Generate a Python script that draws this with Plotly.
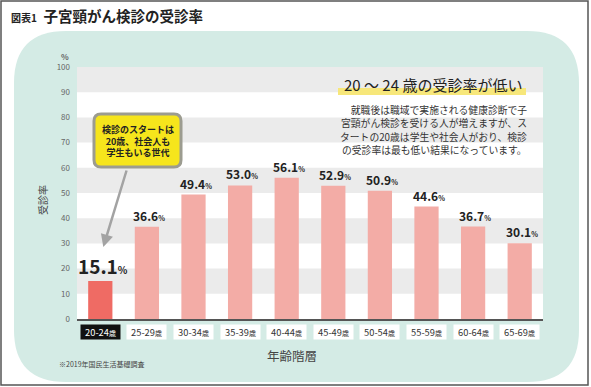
import plotly.graph_objects as go

categories = ["20-24", "25-29", "30-34", "35-39", "40-44", "45-49", "50-54", "55-59", "60-64", "65-69"]
rates = [15.1, 36.6, 49.4, 53.0, 56.1, 52.9, 50.9, 44.6, 36.7, 30.1]
y_ticks = [0, 10, 20, 30, 40, 50, 60, 70, 80, 90, 100]

title_small = "図表1"
title_main = "子宮頸がん検診の受診率"
y_title = "受診率"
x_title = "年齢階層"
footnote = "※2019年国民生活基礎調査"
callout_lines = ["検診のスタートは", "20歳、社会人も", "学生もいる世代"]
box_heading = "20 ～ 24 歳の受診率が低い"
box_lines = ["　就職後は職域で実施される健康診断で子",
             "宮頸がん検診を受ける人が増えますが、ス",
             "タートの20歳は学生や社会人がおり、検診",
             "の受診率は最も低い結果になっています。"]

W, H = 591, 387
L, R, T, B = 77, 543, 67, 319
FONT = "Noto Sans CJK JP"


def px(x):
    return (x - L) / (R - L)


def py(y):
    return (B - y) / (B - T)


def rounded_path(x0, y0, x1, y1, r):
    pts = [
        ("M", [(x0 + r, y0)]),
        ("L", [(x1 - r, y0)]),
        ("Q", [(x1, y0), (x1, y0 + r)]),
        ("L", [(x1, y1 - r)]),
        ("Q", [(x1, y1), (x1 - r, y1)]),
        ("L", [(x0 + r, y1)]),
        ("Q", [(x0, y1), (x0, y1 - r)]),
        ("L", [(x0, y0 + r)]),
        ("Q", [(x0, y0), (x0 + r, y0)]),
    ]
    s = ""
    for cmd, ps in pts:
        s += cmd + " " + " ".join(f"{px(a):.5f},{py(b):.5f}" for a, b in ps) + " "
    return s + "Z"


colors = ["#ef6b64"] + ["#f3aca6"] * (len(categories) - 1)

fig = go.Figure()
fig.add_trace(go.Bar(x=categories, y=rates, marker=dict(color=colors, line=dict(width=0)),
                     width=0.52, hoverinfo="skip"))

shapes = []
# outer frame
shapes.append(dict(type="rect", xref="paper", yref="paper", x0=px(1), x1=px(588), y0=py(1), y1=py(385),
                   line=dict(color="#555555", width=1.5), fillcolor="rgba(0,0,0,0)", layer="below"))
# teal rounded panel
shapes.append(dict(type="path", xref="paper", yref="paper", path=rounded_path(14, 31, 579, 382, 52),
                   fillcolor="#d4ebe5", line=dict(width=0), layer="below"))
# plot area white
shapes.append(dict(type="rect", xref="paper", yref="paper", x0=0, x1=1, y0=0, y1=1,
                   fillcolor="white", line=dict(width=0), layer="below"))
# grey bands
for lo in range(10, 100, 20):
    shapes.append(dict(type="rect", xref="paper", yref="y", x0=0, x1=1, y0=lo, y1=lo + 10,
                       fillcolor="#ebebeb", line=dict(width=0), layer="below"))
# yellow highlight under heading
shapes.append(dict(type="rect", xref="paper", yref="paper", x0=px(338), x1=px(526), y0=py(95), y1=py(88),
                   fillcolor="#f7e77a", line=dict(width=0), layer="below"))
# callout box
shapes.append(dict(type="path", xref="paper", yref="paper", path=rounded_path(94, 114, 181, 167, 7),
                   fillcolor="#f6e51c", line=dict(color="#9c9c90", width=3), layer="above"))

annotations = []
# title
annotations.append(dict(xref="paper", yref="paper", x=px(9), y=py(15), xanchor="left", yanchor="middle",
                        text=f"<b><span style='font-size:10px'>{title_small}</span>  {title_main}</b>",
                        showarrow=False, font=dict(family=FONT, size=14.5, color="#222222")))
# "%" unit
annotations.append(dict(xref="paper", yref="paper", x=px(71), y=py(57), xanchor="right", yanchor="middle",
                        text="<b>%</b>", showarrow=False, font=dict(family=FONT, size=8, color="#666666")))
# y title
annotations.append(dict(xref="paper", yref="paper", x=px(42), y=py(200), xanchor="center", yanchor="middle",
                        text=y_title, textangle=-90, showarrow=False,
                        font=dict(family=FONT, size=10, color="#444444")))
# x title
annotations.append(dict(xref="paper", yref="paper", x=px(292), y=py(355), xanchor="center", yanchor="middle",
                        text=x_title, showarrow=False, font=dict(family=FONT, size=12.5, color="#444444")))
# footnote
annotations.append(dict(xref="paper", yref="paper", x=px(57), y=py(364), xanchor="left", yanchor="middle",
                        text=footnote, showarrow=False, font=dict(family=FONT, size=7, color="#444444")))
# category labels in boxes
for i, c in enumerate(categories):
    first = i == 0
    annotations.append(dict(xref="x", yref="paper", x=c, y=py(332), xanchor="center", yanchor="middle",
                            text=f"{c}<span style='font-size:7px'>歳</span>", showarrow=False,
                            bgcolor="#111111" if first else "white", width=39, height=14,
                            borderpad=0,
                            font=dict(family=FONT, size=9.3, color="white" if first else "#333333")))
# value labels
for i, (c, v) in enumerate(zip(categories, rates)):
    if i == 0:
        txt = f"<b>{v:.1f}</b><span style='font-size:10px'><b>%</b></span>"
        size = 19
        shift = 0
    else:
        txt = f"<b>{v:.1f}</b><span style='font-size:7px'><b>%</b></span>"
        size = 12
        shift = 1
    annotations.append(dict(xref="x", yref="y", x=c, y=v, xanchor="center", yanchor="bottom", yshift=shift,
                            xshift=3 if i == 0 else 2,
                            text=txt, showarrow=False, font=dict(family=FONT, size=size, color="#222222")))
# callout arrow
tip_val = rates[0] + 13.5
tip_px_y = B - tip_val * (B - T) / 100
tip_px_x = L + 0.5 * (R - L) / len(categories) + 3
annotations.append(dict(xref="x", yref="y", x=categories[0], y=tip_val, ax=127 - tip_px_x, ay=169 - tip_px_y,
                        text="", showarrow=True, arrowhead=2, arrowsize=1,
                        arrowwidth=2.5, arrowcolor="#a3a3a3", xshift=3))
# callout text
annotations.append(dict(xref="paper", yref="paper", x=px(137.5), y=py(141), xanchor="center", yanchor="middle",
                        text="<b>" + "<br>".join(callout_lines) + "</b>", showarrow=False, align="center",
                        font=dict(family=FONT, size=9, color="#222222")))
# heading in the text box
annotations.append(dict(xref="paper", yref="paper", x=px(433), y=py(84), xanchor="center", yanchor="middle",
                        text=box_heading, showarrow=False,
                        font=dict(family=FONT, size=15, color="#222222")))
# body text lines
for k, line in enumerate(box_lines):
    annotations.append(dict(xref="paper", yref="paper", x=px(529), y=py(110 + k * 13.3), xanchor="right",
                            yanchor="middle", text=line, showarrow=False,
                            font=dict(family=FONT, size=9.8, color="#333333")))

fig.update_layout(
    width=W, height=H,
    margin=dict(l=L, r=W - R, t=T, b=H - B, pad=0),
    paper_bgcolor="white", plot_bgcolor="rgba(0,0,0,0)",
    showlegend=False,
    shapes=shapes, annotations=annotations,
    xaxis=dict(type="category", showticklabels=False, showgrid=False, zeroline=False,
               showline=True, linecolor="#555555", linewidth=1.5, ticks="",
               range=[-0.5, len(categories) - 0.5], fixedrange=True),
    yaxis=dict(range=[0, 100], tickvals=y_ticks, ticktext=[str(t) for t in y_ticks], showgrid=False,
               zeroline=False, showline=False, ticks="", ticklabelstandoff=6,
               tickfont=dict(family=FONT, size=8, color="#666666"), fixedrange=True),
    font=dict(family=FONT),
)

fig.write_html("out.html", config={"displayModeBar": False},
               post_script="document.body.style.margin='0px';")
